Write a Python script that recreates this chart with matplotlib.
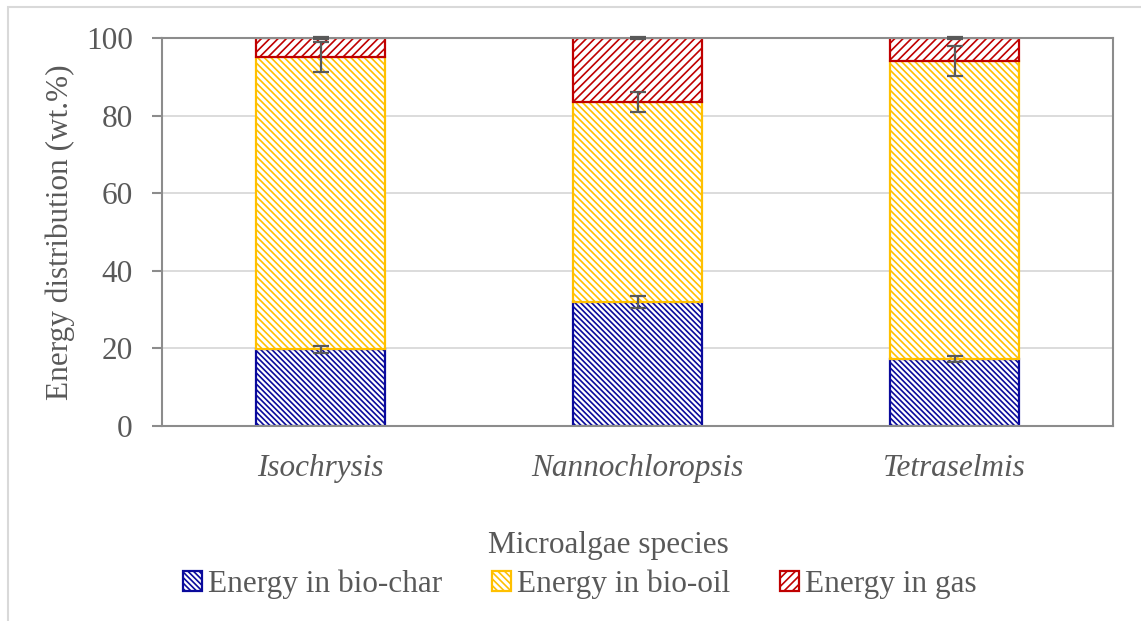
import matplotlib.pyplot as plt
from matplotlib.patches import Rectangle
import numpy as np

species = ["Isochrysis", "Nannochloropsis", "Tetraselmis"]
bio_char = [19.8, 32.0, 17.3]
bio_oil = [75.3, 51.5, 76.8]
gas = [4.9, 16.5, 5.9]

bio_char_err = [0.9, 1.5, 0.8]
bio_oil_err = [3.8, 2.6, 3.9]
gas_err = [0.3, 0.2, 0.3]

series_labels = ["Energy in bio-char", "Energy in bio-oil", "Energy in gas"]
series_colors = ["#0a0a9c", "#ffc000", "#c00000"]
series_hatch = ["\\" * 6, "\\" * 5, "/" * 4]
text_color = "#595959"

plt.rcParams["font.family"] = ["Liberation Serif", "DejaVu Serif"]
plt.rcParams["hatch.linewidth"] = 1.2

fig = plt.figure(figsize=(11.41, 6.21), dpi=100)
ax = fig.add_axes([162 / 1141, 1 - 426 / 621, (1113 - 162) / 1141, (426 - 38) / 621])

# light frame around chart area like the Excel chart border
fig.patches.append(Rectangle((8 / 1141, -0.1), 1.2, 1 - 7 / 621 + 0.1, transform=fig.transFigure,
                             fill=False, edgecolor="#d9d9d9", linewidth=1.5, zorder=0))

x = np.arange(len(species))
width = 0.405
bottoms = np.zeros(len(species))
handles = []
for vals, errs, label, color, hatch in zip([bio_char, bio_oil, gas], [bio_char_err, bio_oil_err, gas_err],
                                           series_labels, series_colors, series_hatch):
    bars = ax.bar(x, vals, width, bottom=bottoms, facecolor="white", edgecolor=color, hatch=hatch,
                  linewidth=1.6, label=label, zorder=2)
    handles.append(bars)
    tops = bottoms + np.array(vals)
    ax.errorbar(x, tops, yerr=errs, fmt="none", ecolor="#595959", elinewidth=1.6, capsize=6,
                capthick=1.6, zorder=4, clip_on=False)
    bottoms = tops

ax.set_xlim(-0.5, 2.5)
ax.set_ylim(0, 100)
ax.set_yticks([0, 20, 40, 60, 80, 100])
ax.yaxis.grid(True, color="#d9d9d9", linewidth=1.3, zorder=0)
ax.set_axisbelow(True)
for side in ["left", "right", "top", "bottom"]:
    ax.spines[side].set_color("#8c8c8c")
    ax.spines[side].set_linewidth(1.5)
ax.tick_params(axis="y", direction="out", length=7, width=1.5, color="#8c8c8c", labelsize=22.5,
               labelcolor=text_color, pad=14)
ax.tick_params(axis="x", length=0, labelsize=22.5, labelcolor=text_color, pad=20)
ax.set_xticks(x)
ax.set_xticklabels(species, fontstyle="italic")

ax.set_ylabel("Energy distribution (wt.%)", fontsize=22.5, color=text_color, labelpad=8)
fig.text(608 / 1141, 1 - 545 / 621, "Microalgae species", fontsize=22.5, color=text_color,
         ha="center", va="center")

leg = fig.legend(handles=handles, labels=series_labels, loc="center", bbox_to_anchor=(580 / 1141, 1 - 584 / 621),
                 ncol=3, frameon=False, fontsize=22.5, handlelength=0.6, handleheight=0.6,
                 handletextpad=0.2, columnspacing=1.6, labelcolor=text_color)

fig.savefig("out.png", dpi=100)
